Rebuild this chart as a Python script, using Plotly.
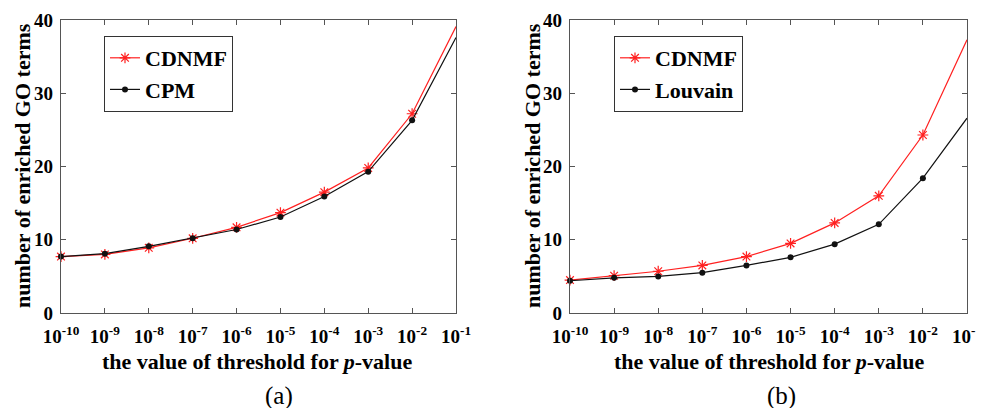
import plotly.graph_objects as go

# ---- data ----
thresholds = [1e-10, 1e-9, 1e-8, 1e-7, 1e-6, 1e-5, 1e-4, 1e-3, 1e-2, 1e-1]
tick_labels = ["10<sup>-10</sup>", "10<sup>-9</sup>", "10<sup>-8</sup>", "10<sup>-7</sup>",
               "10<sup>-6</sup>", "10<sup>-5</sup>", "10<sup>-4</sup>", "10<sup>-3</sup>",
               "10<sup>-2</sup>", "10<sup>-1</sup>"]
cdnmf_a = [7.7, 8.0, 8.9, 10.2, 11.7, 13.7, 16.5, 19.8, 27.2, 39.1]
cpm_a = [7.7, 8.1, 9.1, 10.2, 11.4, 13.1, 15.9, 19.3, 26.3, 37.6]
cdnmf_b = [4.5, 5.1, 5.7, 6.5, 7.7, 9.5, 12.3, 16.0, 24.3, 37.3]
louvain_b = [4.4, 4.8, 5.0, 5.5, 6.5, 7.6, 9.4, 12.1, 18.4, 26.6]
y_ticks = [0, 10, 20, 30, 40]

W, H = 984, 408
OFF = 8  # page body margin offset
FONT = "Liberation Serif, Times New Roman, serif"
RED = "#ff2020"
BLACK = "#111111"
AXC = "#555555"

def px(x):
    return (x - OFF) / W

def py(y):
    return 1 - (y - OFF) / H

fig = go.Figure()

def add_pair(xa, ya, red_y, blk_y, blk_name, legend):
    fig.add_trace(go.Scatter(
        x=thresholds, y=red_y, name="CDNMF", mode="lines+markers",
        line=dict(color=RED, width=1.2),
        marker=dict(symbol="asterisk-open", size=9, color=RED, line=dict(color=RED, width=1.2)),
        xaxis=xa, yaxis=ya, legend=legend, cliponaxis=False))
    fig.add_trace(go.Scatter(
        x=thresholds, y=blk_y, name=blk_name, mode="lines+markers",
        line=dict(color=BLACK, width=1.2),
        marker=dict(symbol="circle", size=6, color=BLACK),
        xaxis=xa, yaxis=ya, legend=legend, cliponaxis=False))

add_pair("x", "y", cdnmf_a, cpm_a, "CPM", "legend")
add_pair("x2", "y2", cdnmf_b, louvain_b, "Louvain", "legend2")

y_dom = [py(313), py(20)]
xcommon = dict(type="log", range=[-10, -1], tickvals=thresholds, ticktext=tick_labels,
               ticks="inside", ticklen=5, tickcolor=AXC, showline=True, linecolor=AXC,
               linewidth=1.2, mirror="ticks", showgrid=False, zeroline=False,
               ticklabelstandoff=6,
               tickfont=dict(family=FONT, size=19, color="black", weight="bold"))
ycommon = dict(range=[0, 40], tickvals=y_ticks, ticks="inside", ticklen=5, tickcolor=AXC,
               showline=True, linecolor=AXC, linewidth=1.2, mirror="ticks",
               showgrid=False, zeroline=False, ticklabelstandoff=3,
               tickfont=dict(family=FONT, size=19, color="black", weight="bold"))

legcommon = dict(font=dict(family=FONT, size=22, color="black", weight="bold"), bgcolor="white",
                 bordercolor="#333333", borderwidth=1, xanchor="left", yanchor="top",
                 tracegroupgap=0)

fig.update_layout(
    width=W, height=H, margin=dict(l=0, r=0, t=0, b=0, autoexpand=False),
    paper_bgcolor="white", plot_bgcolor="white",
    xaxis=dict(domain=[px(61), px(456)], anchor="y", **xcommon),
    yaxis=dict(domain=y_dom, anchor="x", **ycommon),
    xaxis2=dict(domain=[px(570), px(967)], anchor="y2", **xcommon),
    yaxis2=dict(domain=y_dom, anchor="x2", **ycommon),
    legend=dict(x=px(104), y=py(36), **legcommon),
    legend2=dict(x=px(614), y=py(36), **legcommon),
    showlegend=True,
)

annos = []
for cx, ycx, lab, lx in [(257, 23, "(a)", 279), (769, 533, "(b)", 781)]:
    annos.append(dict(x=px(cx), y=py(361), xref="paper", yref="paper",
                      text="<b>the value of threshold for <i>p</i>-value</b>", showarrow=False,
                      font=dict(family=FONT, size=22, color="black"),
                      xanchor="center", yanchor="middle"))
    annos.append(dict(x=px(ycx), y=py(166), xref="paper", yref="paper",
                      text="<b>number of enriched GO terms</b>", showarrow=False, textangle=-90,
                      font=dict(family=FONT, size=22, color="black"),
                      xanchor="center", yanchor="middle"))
    annos.append(dict(x=px(lx), y=py(396), xref="paper", yref="paper",
                      text=lab, showarrow=False,
                      font=dict(family=FONT, size=25, color="black"),
                      xanchor="center", yanchor="middle"))
fig.update_layout(annotations=annos)

fig.write_html("out.html")
